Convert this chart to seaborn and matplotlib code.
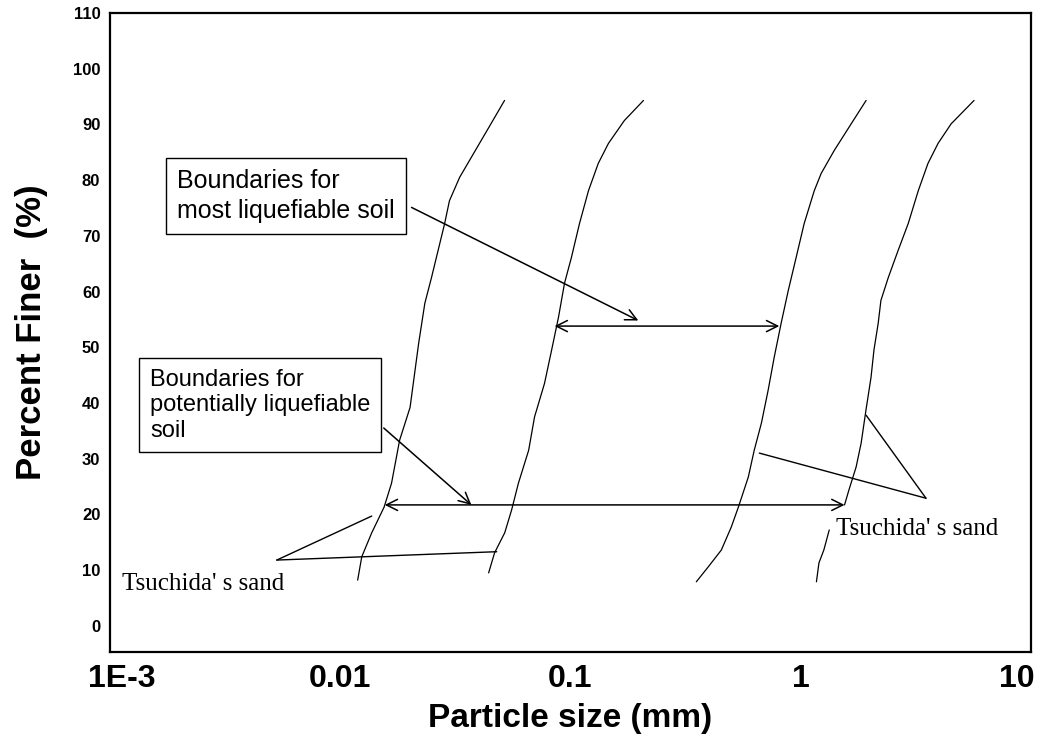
import matplotlib
matplotlib.use('Agg')
import matplotlib.pyplot as plt
import matplotlib.transforms as mtransforms
import seaborn as sns
import pandas as pd
from matplotlib.ticker import LogLocator, NullFormatter

# grading curves (size in mm, percent finer)
c1_size = [0.0119, 0.0124, 0.0137, 0.0155, 0.0167, 0.0181, 0.0201, 0.0219, 0.0233, 0.0249,
           0.0284, 0.0298, 0.0330, 0.0371, 0.0441, 0.0517]
c1_finer = [8.2, 12.4, 16.7, 21.3, 25.6, 33.3, 39.2, 50.7, 57.9, 62.5, 72.2, 76.3, 80.5, 84.1, 89.4, 94.3]

c2_size = [0.0441, 0.0468, 0.0518, 0.0555, 0.0594, 0.0658, 0.0698, 0.0771, 0.0828, 0.0887,
           0.0942, 0.1009, 0.1094, 0.1197, 0.1320, 0.1462, 0.1714, 0.2075]
c2_finer = [9.5, 13.1, 16.7, 20.8, 25.6, 31.5, 37.5, 43.5, 49.5, 55.4, 61.5, 66.1, 72.2, 78.1,
            83.0, 86.6, 90.7, 94.3]

c3_size = [0.352, 0.397, 0.452, 0.499, 0.536, 0.592, 0.628, 0.675, 0.722, 0.767, 0.822, 0.883,
           0.955, 1.035, 1.145, 1.227, 1.397, 1.656, 1.923]
c3_finer = [7.9, 10.6, 13.6, 17.7, 21.3, 26.7, 31.5, 36.4, 42.3, 48.2, 54.3, 60.2, 66.1, 72.2,
            78.1, 81.2, 85.3, 90.1, 94.3]

c4_size = [1.55, 1.62, 1.74, 1.83, 1.92, 2.02, 2.08, 2.17, 2.23, 2.40, 2.65, 2.93, 3.24, 3.57,
           3.95, 4.50, 5.66]
c4_finer = [21.7, 24.4, 28.5, 32.8, 38.7, 44.6, 49.5, 54.3, 58.4, 62.5, 67.4, 72.2, 78.1, 83.0,
            86.6, 90.1, 94.3]
c4_low_size = [1.17, 1.20, 1.26, 1.33]
c4_low_finer = [7.9, 11.3, 13.6, 17.2]

# annotation anchors
most_range = [0.0853, 0.807]
most_level = 53.8
pot_range = [0.0156, 1.55]
pot_level = 21.7

x_ticks = [0.001, 0.01, 0.1, 1, 10]
x_tick_labels = ['1E-3', '0.01', '0.1', '1', '10']
y_ticks = [0, 10, 20, 30, 40, 50, 60, 70, 80, 90, 100, 110]

rows = []
for name, xs, ys in [('c1', c1_size, c1_finer), ('c2', c2_size, c2_finer),
                     ('c3', c3_size, c3_finer), ('c4', c4_size, c4_finer),
                     ('c4_low', c4_low_size, c4_low_finer)]:
    rows += [{'curve': name, 'size': x, 'finer': y} for x, y in zip(xs, ys)]
df = pd.DataFrame(rows)

sns.set_style('white')
plt.rcParams['font.family'] = 'Liberation Sans'
plt.rcParams['text.color'] = 'black'
plt.rcParams['axes.labelcolor'] = 'black'
plt.rcParams['xtick.color'] = 'black'
plt.rcParams['ytick.color'] = 'black'

fig, ax = plt.subplots(figsize=(10.42, 7.47), dpi=100)
fig.subplots_adjust(left=0.1056, right=0.9894, bottom=0.1272, top=0.9826)
ax.set_xscale('log')

sns.lineplot(data=df, x='size', y='finer', units='curve', estimator=None, sort=False,
             color='black', lw=0.9, legend=False, ax=ax)

ax.set_xlim(1e-3, 10)
ax.set_ylim(-4.7, 110)

ax.set_xticks(x_ticks, x_tick_labels, fontsize=23, fontweight='bold')
ax.xaxis.set_minor_locator(LogLocator(base=10, subs=(4, 5, 6, 8, 9)))
ax.xaxis.set_minor_formatter(NullFormatter())
ax.set_yticks(y_ticks, [str(v) for v in y_ticks], fontsize=12, fontweight='bold')
ax.tick_params(which='major', direction='in', length=9, width=1.3, color='black')
ax.tick_params(which='minor', direction='in', length=5, width=1.1, color='black')
ax.tick_params(axis='x', pad=9)
ax.tick_params(axis='y', pad=7)
for s in ax.spines.values():
    s.set_color('black')
    s.set_linewidth(1.6)

# end labels sit a little inside the frame, as in the original
xlabels = ax.get_xticklabels()
xlabels[0].set_transform(xlabels[0].get_transform() + mtransforms.ScaledTranslation(12 / 100, 0, fig.dpi_scale_trans))
xlabels[-1].set_transform(xlabels[-1].get_transform() + mtransforms.ScaledTranslation(-14 / 100, 0, fig.dpi_scale_trans))

ax.set_xlabel('Particle size (mm)', fontsize=24, fontweight='bold', labelpad=6)
ax.set_ylabel('Percent Finer  (%)', fontsize=25, fontweight='bold', labelpad=18)

arr = dict(color='black', lw=1.1, shrinkA=0, shrinkB=0, mutation_scale=20)
ax.annotate('', xy=(most_range[1], most_level), xytext=(most_range[0], most_level),
            arrowprops=dict(arrowstyle='<->', **arr))
ax.annotate('', xy=(pot_range[1], pot_level), xytext=(pot_range[0], pot_level),
            arrowprops=dict(arrowstyle='<->', **arr))

# boxed labels with pointers
box = dict(boxstyle='square,pad=0.45', facecolor='white', edgecolor='black', lw=1.0)
ax.text(0.00195, 77.2, 'Boundaries for\nmost liquefiable soil', fontsize=18,
        ha='left', va='center', linespacing=1.3, bbox=box)
ax.annotate('', xy=(0.197, 54.8), xytext=(0.0204, 75.1), arrowprops=dict(arrowstyle='->', **arr))
ax.text(0.00149, 39.6, 'Boundaries for\npotentially liquefiable\nsoil', fontsize=17,
        ha='left', va='center', linespacing=1.2, bbox=box)
ax.annotate('', xy=(0.0371, 21.7), xytext=(0.01545, 35.5), arrowprops=dict(arrowstyle='->', **arr))

# Tsuchida's sand pointers
line = dict(arrowstyle='-', color='black', lw=1.0, shrinkA=0, shrinkB=0)
for apex, ends in [((0.0053, 11.8), [(0.0137, 19.7), (0.0478, 13.3)]),
                   ((3.50, 22.9), [(1.923, 37.8), (0.661, 31.0)])]:
    for e in ends:
        ax.annotate('', xy=e, xytext=apex, arrowprops=line)
ax.text(0.001127, 7.5, "Tsuchida' s sand", fontsize=18, family='Liberation Serif',
        ha='left', va='center')
ax.text(1.426, 17.4, "Tsuchida' s sand", fontsize=18, family='Liberation Serif',
        ha='left', va='center')

fig.savefig('out.png', dpi=100)
